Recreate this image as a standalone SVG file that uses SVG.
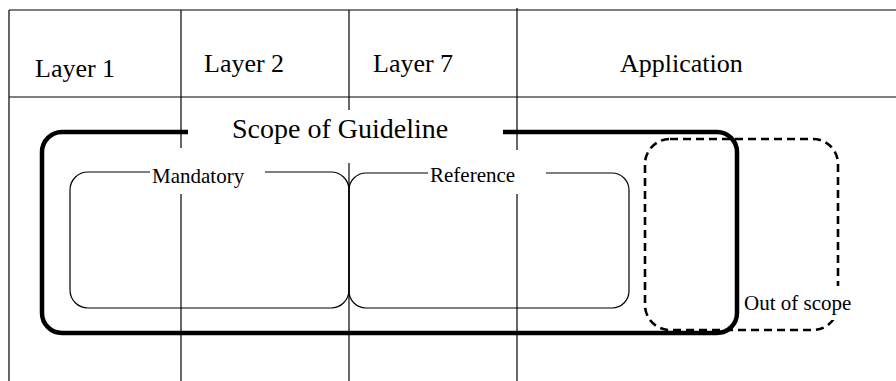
<svg xmlns="http://www.w3.org/2000/svg" width="896" height="381" viewBox="0 0 896 381">
<style>
.grid{stroke:#000;stroke-width:1.2;fill:none}
.bg{fill:#fff;stroke:none}
.thin{fill:none;stroke:#000;stroke-width:1.2}
</style>
<rect width="896" height="381" fill="#fff"/>
<g id="grid">
<line class="grid" x1="9" y1="10" x2="896" y2="10"/>
<line class="grid" x1="9" y1="97" x2="896" y2="97"/>
<line class="grid" x1="9" y1="10" x2="9" y2="381"/>
<line class="grid" x1="181" y1="10" x2="181" y2="381"/>
<line class="grid" x1="349" y1="10" x2="349" y2="381"/>
<line class="grid" x1="517" y1="8" x2="517" y2="381"/>
</g>
<g id="scope">
<rect x="42" y="132" width="695" height="201" rx="20" fill="none" stroke="#000" stroke-width="4.5"/>
</g>
<g id="out-of-scope">
<rect x="645" y="139" width="193" height="191" rx="25" fill="none" stroke="#000" stroke-width="2.6" stroke-dasharray="8 5"/>
</g>
<g id="mandatory">
<rect class="thin" x="70" y="172" width="279" height="136" rx="18"/>
</g>
<g id="reference">
<rect class="thin" x="349" y="173" width="280" height="135" rx="17"/>
</g>
<g id="labels" font-family="'Liberation Serif', 'Times New Roman', serif" fill="#000">
<rect class="bg" x="188" y="110" width="315" height="53"/>
<rect class="bg" x="150" y="148" width="115" height="46"/>
<rect class="bg" x="428" y="150" width="118" height="44"/>
<rect class="bg" x="741" y="286" width="114" height="34"/>
<text x="35" y="77" font-size="26">Layer 1</text>
<text x="204" y="72" font-size="26">Layer 2</text>
<text x="373" y="72" font-size="26">Layer 7</text>
<text x="620" y="72" font-size="26">Application</text>
<text x="232" y="138" font-size="28">Scope of Guideline</text>
<text x="152" y="183" font-size="21">Mandatory</text>
<text x="430" y="182" font-size="21">Reference</text>
<text x="744" y="310" font-size="21">Out of scope</text>
</g>
</svg>
